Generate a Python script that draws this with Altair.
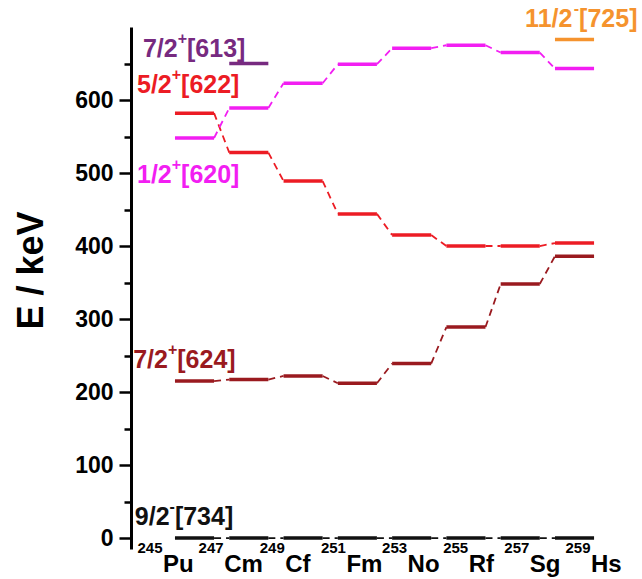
import altair as alt
import pandas as pd

# ---------------- data ----------------
nuclei = ["Pu", "Cm", "Cf", "Fm", "No", "Rf", "Sg", "Hs"]
mass_numbers = ["245", "247", "249", "251", "253", "255", "257", "259"]

states = ["9/2-[734]", "7/2+[624]", "5/2+[622]", "1/2+[620]", "7/2+[613]", "11/2-[725]"]

e_734 = [0, 0, 0, 0, 0, 0, 0, 0]
e_624 = [215, 217, 222, 212, 239, 289, 348, 386]
e_622 = [582, 528, 489, 444, 415, 400, 400, 404]
e_620 = [548, 589, 623, 649, 671, 675, 665, 643]
e_613 = [None, 650, None, None, None, None, None, None]
e_725 = [None, None, None, None, None, None, None, 683]
energies = [e_734, e_624, e_622, e_620, e_613, e_725]

# level labels: base, superscript parity, Nilsson configuration
label_base = ["9/2", "7/2", "5/2", "1/2", "7/2", "11/2"]
label_sup = ["-", "+", "+", "+", "+", "-"]
label_conf = ["[734]", "[624]", "[622]", "[620]", "[613]", "[725]"]
# label anchors (slot index, keV)
label_x = [-1.10, -1.13, -1.06, -1.06, -0.95, 6.09]
label_y = [18, 233, 610, 486, 659, 700]

# ---------------- style ----------------
colors = ["#111111", "#9a1a1f", "#ec1c24", "#f21ef2", "#772a80", "#f5932e"]
FONT = "Liberation Sans"
HW = 0.36            # half width of a level bar, in slot units
BASE_SIZE = 25
SUP_SIZE = 16
CHARW = {"0": .556, "1": .556, "2": .556, "3": .556, "4": .556, "5": .556, "6": .556,
         "7": .556, "8": .556, "9": .556, "/": .278, "[": .333, "]": .333, "+": .584, "-": .333}


def text_width(s, size):
    return sum(CHARW.get(c, .556) for c in s) * size


# ---------------- tables ----------------
seg_rows, con_rows = [], []
for st, vals in zip(states, energies):
    prev = None
    for i, v in enumerate(vals):
        if v is None:
            prev = None
            continue
        seg_rows.append({"state": st, "x": i - HW, "x2": i + HW, "y": v})
        if prev is not None:
            con_rows.append({"state": st, "x": prev[0] + HW, "x2": i - HW, "y": prev[1], "y2": v})
        prev = (i, v)
seg_df = pd.DataFrame(seg_rows)
con_df = pd.DataFrame(con_rows)

xs = alt.Scale(domain=[-1.17, 7.93], nice=False, zero=False)
ys = alt.Scale(domain=[-15, 700], nice=False, zero=False)
cs = alt.Scale(domain=states, range=colors)

y_axis = alt.Axis(
    values=list(range(0, 651, 50)),
    labelExpr="datum.value % 100 === 0 ? datum.label : ''",
    title="E / keV",
    titleFont=FONT, titleFontSize=36, titleFontWeight="bold", titleColor="black",
    titleX=-89, titleY=243, titleBaseline="alphabetic", titleAngle=270, titleAlign="center",
    labelFont=FONT, labelFontSize=23, labelFontWeight="bold", labelColor="black", labelPadding=6,
    tickSize={"condition": {"test": "datum.value % 100 === 0", "value": 12}, "value": 7},
    tickWidth=2.5, tickColor="black", domainColor="black", domainWidth=3, grid=False,
)

segments = alt.Chart(seg_df).mark_rule(strokeWidth=3.5, strokeCap="butt").encode(
    x=alt.X("x:Q", scale=xs, axis=None),
    x2="x2:Q",
    y=alt.Y("y:Q", scale=ys, axis=y_axis),
    color=alt.Color("state:N", scale=cs, legend=None),
)

connectors = alt.Chart(con_df).mark_rule(strokeWidth=1.8, strokeDash=[7, 5]).encode(
    x=alt.X("x:Q", scale=xs, axis=None),
    x2="x2:Q",
    y=alt.Y("y:Q", scale=ys, axis=y_axis),
    y2="y2:Q",
    color=alt.Color("state:N", scale=cs, legend=None),
)

layers = [segments, connectors]

# level labels built from three text pieces each
for st, col, b, s, c, lx, ly in zip(states, colors, label_base, label_sup, label_conf, label_x, label_y):
    df = pd.DataFrame({"x": [lx], "y": [ly], "b": [b], "s": [s], "c": [c]})
    wb = text_width(b, BASE_SIZE)
    ws = text_width(s, SUP_SIZE)
    enc = dict(x=alt.X("x:Q", scale=xs, axis=None), y=alt.Y("y:Q", scale=ys, axis=y_axis))
    common = dict(align="left", baseline="alphabetic", font=FONT, fontWeight="bold", color=col)
    layers.append(alt.Chart(df).mark_text(fontSize=BASE_SIZE, **common).encode(text="b:N", **enc))
    layers.append(alt.Chart(df).mark_text(fontSize=SUP_SIZE, dx=wb, dy=-13, **common).encode(text="s:N", **enc))
    layers.append(alt.Chart(df).mark_text(fontSize=BASE_SIZE, dx=wb + ws, **common).encode(text="c:N", **enc))

# x labels: mass number as superscript + element symbol
nuc_df = pd.DataFrame({"nuc": nuclei, "mass": mass_numbers})
nuc_scale = alt.Scale(type="point", domain=nuclei, range=[32, 460], padding=0)
sym = alt.Chart(nuc_df).mark_text(
    align="left", baseline="alphabetic", font=FONT, fontWeight="bold", fontSize=24, dy=23, color="black"
).encode(
    x=alt.X("nuc:N", scale=nuc_scale, axis=None),
    y=alt.datum(-15),
    text="nuc:N",
)
mas = alt.Chart(nuc_df).mark_text(
    align="right", baseline="alphabetic", font=FONT, fontWeight="bold", fontSize=15, dy=4, dx=-0.5, color="black"
).encode(
    x=alt.X("nuc:N", scale=nuc_scale, axis=None),
    y=alt.datum(-15),
    text="mass:N",
)
layers += [sym, mas]

chart = alt.layer(*layers).resolve_scale(x="independent").properties(
    width=494, height=522,
    autosize=alt.AutoSizeParams(type="none"),
    padding={"left": 131, "top": 27, "right": 17, "bottom": 30},
).configure_view(stroke=None)

chart.save("out.html", embed_options={"renderer": "svg", "actions": False})
